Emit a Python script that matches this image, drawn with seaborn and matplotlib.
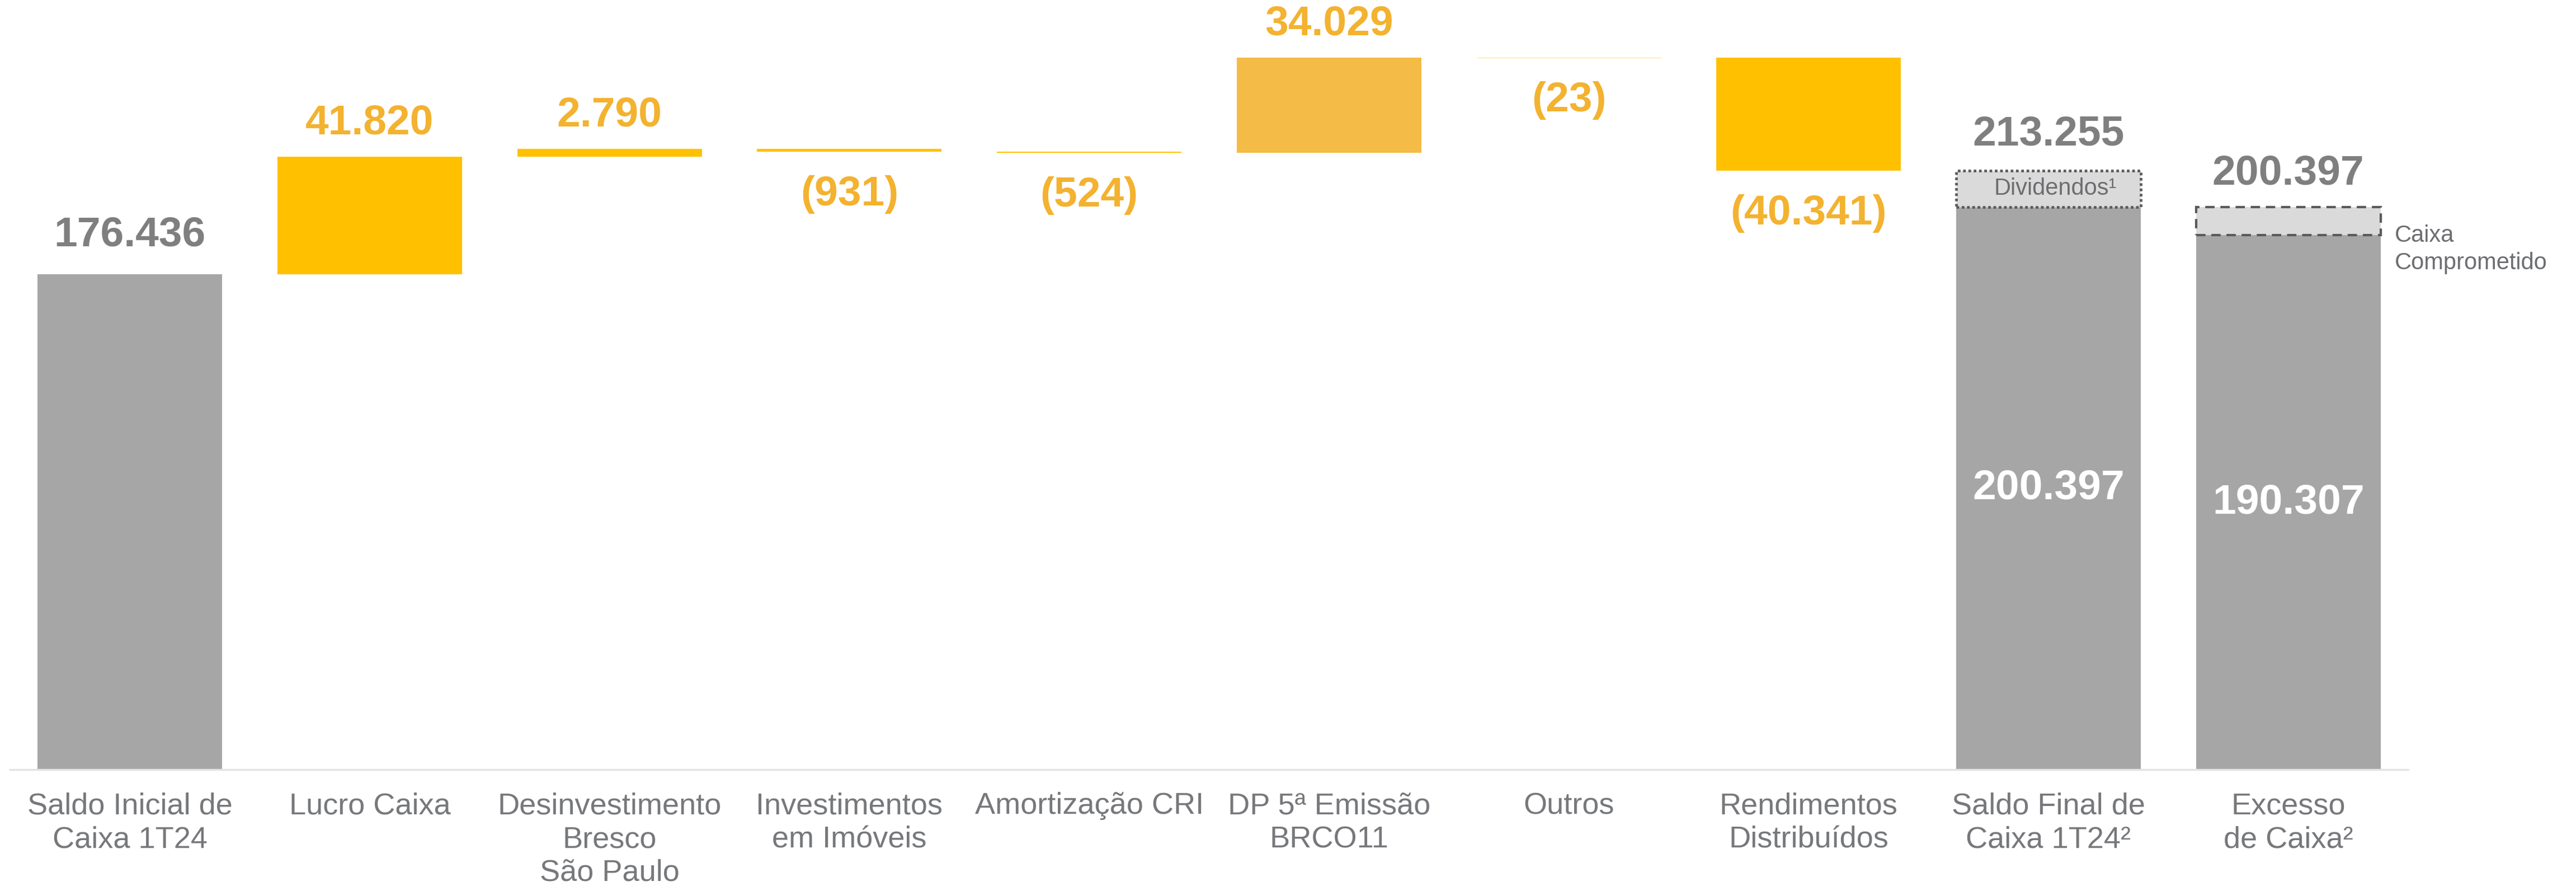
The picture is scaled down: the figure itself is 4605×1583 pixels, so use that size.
import matplotlib
matplotlib.use("Agg")
import matplotlib.pyplot as plt
import seaborn as sns
import numpy as np

# ---------------- data ----------------
categories = [
    "Saldo Inicial de\nCaixa 1T24",
    "Lucro Caixa",
    "Desinvestimento\nBresco\nSão Paulo",
    "Investimentos\nem Imóveis",
    "Amortização CRI",
    "DP 5ª Emissão\nBRCO11",
    "Outros",
    "Rendimentos\nDistribuídos",
    "Saldo Final de\nCaixa 1T24²",
    "Excesso\nde Caixa²",
]
saldo_inicial = 176436
variacoes = [41820, 2790, -931, -524, 34029, -23, -40341]
saldo_final = 213255
saldo_final_pos_dividendos = 200397
excesso_total = 200397
excesso_caixa = 190307

# ---------------- style ----------------
GRAY = "#A6A6A6"
YELLOW = "#FFC000"
DP_YELLOW = "#F4BB46"
BOX_FILL = "#DADADA"
BOX_EDGE = "#58595B"
TXT_YELLOW = "#F3B22F"
TXT_GRAY = "#7F7F7F"
CAT_GRAY = "#77787B"
FONT = "Liberation Sans"

sns.set_theme(style="white")
plt.rcParams["font.family"] = [FONT, "DejaVu Sans"]

def fmt(v):
    s = f"{abs(v):,}".replace(",", ".")
    return f"({s})" if v < 0 else s

# waterfall geometry from data
bottoms = [0]
heights = [saldo_inicial]
cum = saldo_inicial
for v in variacoes:
    bottoms.append(cum)
    heights.append(v)
    cum += v
bottoms += [0, 0]
heights += [saldo_final_pos_dividendos, excesso_caixa]

colors = [GRAY, YELLOW, YELLOW, YELLOW, YELLOW, DP_YELLOW, YELLOW, YELLOW, GRAY, GRAY]

fig = plt.figure(figsize=(46.05, 15.83), dpi=100)
ax = fig.add_axes([18 / 4605, 208 / 1583, 4287 / 4605, 1375 / 1583])

BAR_W = 0.77
sns.barplot(x=categories, y=heights, bottom=bottoms, order=categories,
            color=GRAY, saturation=1, width=BAR_W, errorbar=None,
            linewidth=0, ax=ax)
main_patches = list(ax.patches)
for p, c in zip(main_patches, colors):
    p.set_facecolor(c)
    p.set_edgecolor(c)
    p.set_linewidth(0)
# very small "Outros" step rendered as a hairline
main_patches[6].set_edgecolor("#FFE6A0")
main_patches[6].set_linewidth(1.0)

# dashed / dotted boxes on the final bars
box_cats = [categories[8], categories[9]]
box_h = [saldo_final - saldo_final_pos_dividendos, excesso_total - excesso_caixa]
box_b = [saldo_final_pos_dividendos, excesso_caixa]
sns.barplot(x=box_cats, y=box_h, bottom=box_b, order=categories,
            color=BOX_FILL, saturation=1, width=BAR_W, errorbar=None,
            linewidth=3.0, edgecolor=BOX_EDGE, ax=ax)
box_patches = list(ax.patches)[len(main_patches):]
box_patches[0].set_linestyle((0, (1.0, 1.0)))
box_patches[0].set_linewidth(3.4)
box_patches[1].set_linestyle((0, (4.0, 2.5)))

# ---------------- value labels ----------------
VAL_SIZE = 54
for i in range(10):
    b, h = bottoms[i], heights[i]
    if i == 0:
        ax.annotate(fmt(h), xy=(i, b + h), xytext=(0, 50), textcoords="offset points",
                    ha="center", va="center", fontsize=VAL_SIZE, fontweight="bold",
                    color=TXT_GRAY)
    elif 1 <= i <= 7:
        v = variacoes[i - 1]
        if v >= 0:
            ax.annotate(fmt(v), xy=(i, b + h), xytext=(0, 43), textcoords="offset points",
                        ha="center", va="center", fontsize=VAL_SIZE, fontweight="bold",
                        color=TXT_YELLOW)
        else:
            ax.annotate(fmt(v), xy=(i, b + h), xytext=(0, -55), textcoords="offset points",
                        ha="center", va="center", fontsize=VAL_SIZE, fontweight="bold",
                        color=TXT_YELLOW)

ax.annotate(fmt(saldo_final), xy=(8, saldo_final), xytext=(0, 47), textcoords="offset points",
            ha="center", va="center", fontsize=VAL_SIZE, fontweight="bold", color=TXT_GRAY)
ax.annotate(fmt(excesso_total), xy=(9, excesso_total), xytext=(0, 43), textcoords="offset points",
            ha="center", va="center", fontsize=VAL_SIZE, fontweight="bold", color=TXT_GRAY)

ax.text(8, saldo_final_pos_dividendos / 2, fmt(saldo_final_pos_dividendos), ha="center",
        va="center", fontsize=VAL_SIZE, fontweight="bold", color="white")
ax.text(9, excesso_caixa / 2, fmt(excesso_caixa), ha="center",
        va="center", fontsize=VAL_SIZE, fontweight="bold", color="white")

ax.text(8.03, (saldo_final + saldo_final_pos_dividendos) / 2, "Dividendos¹", ha="center",
        va="center", fontsize=30, color="#6D6E71")
ax.annotate("Caixa\nComprometido", xy=(9 + BAR_W / 2, excesso_caixa), xytext=(18, -18),
            textcoords="offset points", ha="left", va="center", fontsize=30,
            color="#6D6E71", linespacing=1.3, annotation_clip=False)

# ---------------- axes ----------------
ax.set_xlim(-0.5, 9.5)
ax.set_ylim(0, 274100)
ax.set_xlabel("")
ax.set_ylabel("")
ax.set_yticks([])
ax.set_xticks(range(len(categories)))
ax.set_xticklabels(categories, fontsize=39, color=CAT_GRAY, linespacing=1.25)
ax.tick_params(axis="x", length=0, pad=29)
for s in ["top", "left", "right"]:
    ax.spines[s].set_visible(False)
ax.spines["bottom"].set_color("#E3E3E3")
ax.spines["bottom"].set_linewidth(2.5)
ax.set_facecolor("white")
fig.patch.set_facecolor("white")

fig.savefig("out.png", dpi=100, facecolor="white")
